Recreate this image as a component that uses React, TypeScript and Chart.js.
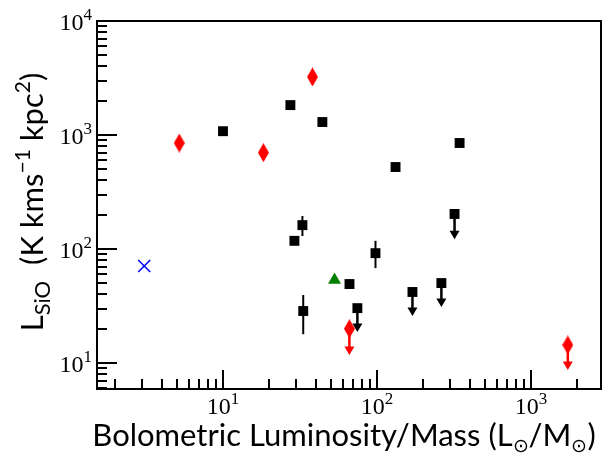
import { useEffect, useRef } from "react";
import { Chart, registerables } from "chart.js";

Chart.register(...registerables);

// ---- data ----
const squareL = [10, 27.4, 44.2, 132, 344, 29.1, 32.8, 97.8, 33.2, 66.3, 319, 74.6, 170, 262];
const squareS = [1080, 1830, 1300, 524, 851, 118, 162, 92, 28.6, 49.3, 203, 30.3, 42, 50.3];

// error bars on squares
const errL = [32.8, 97.8, 33.2, 66.3];
const errLo = [130, 68, 17.9, 45];
const errHi = [195, 118, 39.5, 54];

// upper limits on squares (arrow tips)
const limSquareL = [319, 74.6, 170, 262];
const limSquareS = [203, 30.3, 42, 50.3];
const limSquareTip = [122, 18.7, 25.8, 31];

const diamondL = [5.2, 18.3, 38.1, 66.2, 1735];
const diamondS = [850, 700, 3230, 20, 14.4];

const limDiamondL = [66.2, 1735];
const limDiamondS = [20, 14.4];
const limDiamondTip = [11.75, 8.7];

const triangleL = [53];
const triangleS = [53.5];

const crossL = [3.08];
const crossS = [71];

const xDecades = [10, 100, 1000];
const xExp = ["1", "2", "3"];
const yDecades = [10, 100, 1000, 10000];
const yExp = ["1", "2", "3", "4"];

const X_MIN = 1.52;
const X_MAX = 2850;
const Y_MIN = 5.92;
const Y_MAX = 10000;

const SANS = "Lato, 'Open Sans', sans-serif";
const SERIF = "'Liberation Serif', 'DejaVu Serif', serif";

function makeDiamond(w: number, h: number, color: string) {
  const c = document.createElement("canvas");
  c.width = w;
  c.height = h;
  const g = c.getContext("2d")!;
  g.fillStyle = color;
  g.beginPath();
  g.moveTo(w / 2, 0);
  g.lineTo(w, h / 2);
  g.lineTo(w / 2, h);
  g.lineTo(0, h / 2);
  g.closePath();
  g.fill();
  return c;
}

type Seg = { t: string; f: string; dy?: number };

function richWidth(ctx: CanvasRenderingContext2D, segs: Seg[]) {
  let w = 0;
  for (const s of segs) {
    ctx.font = s.f;
    w += ctx.measureText(s.t).width;
  }
  return w;
}

function drawRich(ctx: CanvasRenderingContext2D, segs: Seg[], x: number, y: number) {
  let cx = x;
  ctx.textAlign = "left";
  ctx.textBaseline = "alphabetic";
  for (const s of segs) {
    ctx.font = s.f;
    ctx.fillText(s.t, cx, y + (s.dy || 0));
    cx += ctx.measureText(s.t).width;
  }
}

function arrow(ctx: CanvasRenderingContext2D, x: number, y0: number, y1: number, color: string) {
  ctx.strokeStyle = color;
  ctx.fillStyle = color;
  ctx.lineWidth = 2.5;
  ctx.beginPath();
  ctx.moveTo(x, y0);
  ctx.lineTo(x, y1 - 4);
  ctx.stroke();
  ctx.beginPath();
  ctx.moveTo(x - 5, y1 - 8.5);
  ctx.lineTo(x + 5, y1 - 8.5);
  ctx.lineTo(x, y1);
  ctx.closePath();
  ctx.fill();
}

const decorPlugin = {
  id: "decor",
  beforeDatasetsDraw(chart: any) {
    const ctx: CanvasRenderingContext2D = chart.ctx;
    const xs = chart.scales.x;
    const ys = chart.scales.y;
    ctx.save();
    ctx.strokeStyle = "#000";
    ctx.lineWidth = 2;
    for (let i = 0; i < errL.length; i++) {
      const px = xs.getPixelForValue(errL[i]);
      ctx.beginPath();
      ctx.moveTo(px, ys.getPixelForValue(errLo[i]));
      ctx.lineTo(px, ys.getPixelForValue(errHi[i]));
      ctx.stroke();
    }
    for (let i = 0; i < limSquareL.length; i++) {
      const px = xs.getPixelForValue(limSquareL[i]);
      arrow(ctx, px, ys.getPixelForValue(limSquareS[i]), ys.getPixelForValue(limSquareTip[i]), "#000");
    }
    for (let i = 0; i < limDiamondL.length; i++) {
      const px = xs.getPixelForValue(limDiamondL[i]);
      arrow(ctx, px, ys.getPixelForValue(limDiamondS[i]), ys.getPixelForValue(limDiamondTip[i]), "#ff0000");
    }
    ctx.restore();
  },
  afterDraw(chart: any) {
    const ctx: CanvasRenderingContext2D = chart.ctx;
    const xs = chart.scales.x;
    const ys = chart.scales.y;
    const a = chart.chartArea;
    ctx.save();
    ctx.strokeStyle = "#000";
    ctx.fillStyle = "#000";
    ctx.lineWidth = 2;
    ctx.lineCap = "butt";

    const xMinor: number[] = [];
    const yMinor: number[] = [];
    for (let d = 1; d <= 1000; d *= 10) {
      for (let k = 2; k <= 9; k++) {
        const v = k * d;
        if (v > X_MIN && v < X_MAX) xMinor.push(v);
        if (v > Y_MIN && v < Y_MAX) yMinor.push(v);
      }
    }
    ctx.beginPath();
    for (const v of xMinor) {
      const px = Math.round(xs.getPixelForValue(v));
      ctx.moveTo(px, a.bottom);
      ctx.lineTo(px, a.bottom - 10);
    }
    for (const v of xDecades) {
      const px = Math.round(xs.getPixelForValue(v));
      ctx.moveTo(px, a.bottom);
      ctx.lineTo(px, a.bottom - 19);
    }
    for (const v of yMinor) {
      const py = Math.round(ys.getPixelForValue(v));
      ctx.moveTo(a.left, py);
      ctx.lineTo(a.left + 10, py);
    }
    for (const v of yDecades) {
      const py = Math.round(ys.getPixelForValue(v));
      ctx.moveTo(a.left, py);
      ctx.lineTo(a.left + 20, py);
    }
    ctx.stroke();

    ctx.strokeRect(a.left, a.top, a.right - a.left, a.bottom - a.top);

    const big = `24px ${SERIF}`;
    const small = `17px ${SERIF}`;
    for (let i = 0; i < xDecades.length; i++) {
      const segs: Seg[] = [
        { t: "10", f: big },
        { t: xExp[i], f: small, dy: -10 },
      ];
      const w = richWidth(ctx, segs);
      const px = xs.getPixelForValue(xDecades[i]);
      drawRich(ctx, segs, px - w / 2, a.bottom + 25);
    }
    for (let i = 0; i < yDecades.length; i++) {
      const segs: Seg[] = [
        { t: "10", f: big },
        { t: yExp[i], f: small, dy: -10 },
      ];
      const w = richWidth(ctx, segs);
      const py = ys.getPixelForValue(yDecades[i]);
      drawRich(ctx, segs, a.left - 5 - w, py + 9);
    }

    const main = `31px ${SANS}`;
    const sub = `19px ${SANS}`;
    const xt: Seg[] = [
      { t: "Bolometric Luminosity/Mass (L", f: main },
      { t: "⊙", f: sub, dy: 6 },
      { t: "/M", f: main },
      { t: "⊙", f: sub, dy: 6 },
      { t: ")", f: main },
    ];
    const xw = richWidth(ctx, xt);
    drawRich(ctx, xt, 344 - xw / 2, 446);

    const ysub = `22px ${SANS}`;
    const ysup = `21px ${SANS}`;
    const yt: Seg[] = [
      { t: "L", f: main },
      { t: "SiO", f: ysub, dy: 7 },
      { t: "  (K kms", f: main },
      { t: "−1", f: ysup, dy: -13 },
      { t: " kpc", f: main },
      { t: "2", f: ysup, dy: -13 },
      { t: ")", f: main },
    ];
    const yw = richWidth(ctx, yt);
    ctx.translate(43, 202);
    ctx.rotate(-Math.PI / 2);
    drawRich(ctx, yt, -yw / 2, 0);
    ctx.restore();
  },
};

export default function App() {
  const ref = useRef<HTMLCanvasElement | null>(null);
  useEffect(() => {
    if (!ref.current) return;
    const redDiamond = makeDiamond(11, 19, "#ff0000");
    const chart = new Chart(ref.current, {
      type: "scatter",
      data: {
        datasets: [
          {
            label: "diamonds",
            data: diamondL.map((x, i) => ({ x, y: diamondS[i] })),
            pointStyle: redDiamond as any,
            pointRadius: 9,
            backgroundColor: "#ff0000",
            borderWidth: 0,
          },
          {
            label: "squares",
            data: squareL.map((x, i) => ({ x, y: squareS[i] })),
            pointStyle: "rect",
            pointRadius: 7,
            backgroundColor: "#000",
            borderWidth: 0,
          },
          {
            label: "triangle",
            data: triangleL.map((x, i) => ({ x, y: triangleS[i] })),
            pointStyle: "triangle",
            pointRadius: 7.5,
            backgroundColor: "#008000",
            borderWidth: 0,
          },
          {
            label: "cross",
            data: crossL.map((x, i) => ({ x, y: crossS[i] })),
            pointStyle: "crossRot",
            pointRadius: 8.5,
            borderColor: "#0000ff",
            borderWidth: 1.5,
            backgroundColor: "#0000ff",
          },
        ],
      },
      options: {
        animation: false,
        responsive: false,
        maintainAspectRatio: false,
        devicePixelRatio: 1,
        layout: { autoPadding: false, padding: { left: 97, top: 21, right: 2, bottom: 64 } },
        plugins: { legend: { display: false }, tooltip: { enabled: false } },
        scales: {
          x: { type: "logarithmic", min: X_MIN, max: X_MAX, display: false },
          y: { type: "logarithmic", min: Y_MIN, max: Y_MAX, display: false },
        },
      },
      plugins: [decorPlugin],
    });
    return () => chart.destroy();
  }, []);
  return (
    <div style={{ position: "fixed", left: 0, top: 0, width: 603, height: 453, background: "#fff" }}>
      <canvas ref={ref} width={603} height={453} style={{ width: 603, height: 453 }} />
    </div>
  );
}
